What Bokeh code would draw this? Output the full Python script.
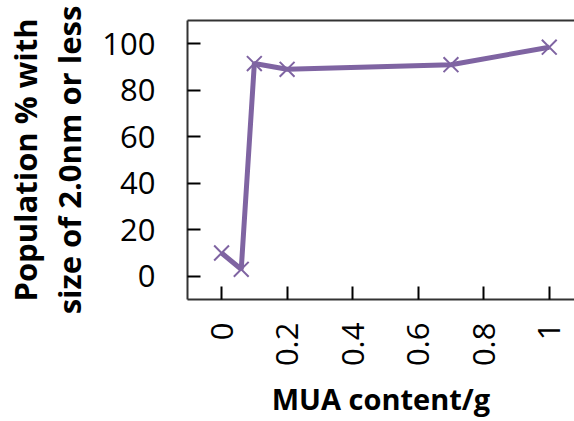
from bokeh.plotting import figure
from bokeh.models import Range1d, FixedTicker, LinearAxis
from bokeh.embed import file_html
from bokeh.resources import INLINE
import math

mua_content = [0, 0.06, 0.1, 0.2, 0.7, 1.0]
population_pct = [10, 3, 91.5, 89, 91, 98.5]
x_ticks = [0, 0.2, 0.4, 0.6, 0.8, 1.0]
x_tick_labels = {0: "0", 0.2: "0.2", 0.4: "0.4", 0.6: "0.6", 0.8: "0.8", 1.0: "1"}
y_ticks = [0, 20, 40, 60, 80, 100]

FONT = "Open Sans"
COLOR = "#7F64A2"
AXIS = "#333333"

p = figure(width=574, height=421, output_backend="svg", toolbar_location=None,
           x_range=Range1d(-0.104, 1.077), y_range=Range1d(-10, 110),
           min_border_left=187, min_border_right=0, min_border_top=20, min_border_bottom=122)
p.outline_line_color = None
p.grid.visible = False
p.background_fill_color = "white"
p.border_fill_color = "white"

p.line(mua_content, population_pct, line_color=COLOR, line_width=5)
p.scatter(mua_content, population_pct, marker="x", size=21, line_color=COLOR, line_width=2)

xa = p.xaxis[0]
xa.ticker = FixedTicker(ticks=x_ticks)
xa.major_label_overrides = x_tick_labels
xa.major_label_orientation = math.pi / 2
xa.axis_label = "MUA content/g"
ya = p.yaxis[0]
ya.ticker = FixedTicker(ticks=y_ticks)
ya.axis_label = "Population % with\nsize of 2.0nm or less"

for ax in (xa, ya):
    ax.axis_line_color = AXIS
    ax.axis_line_width = 2
    ax.major_tick_line_color = "black"
    ax.major_tick_line_width = 2
    ax.major_tick_in = 13
    ax.major_tick_out = 0
    ax.minor_tick_line_color = None
    ax.major_label_text_font = FONT
    ax.major_label_text_font_size = "31px"
    ax.major_label_text_color = "black"
    ax.axis_label_text_font = FONT
    ax.axis_label_text_font_style = "bold"
    ax.axis_label_text_color = "black"

xa.axis_label_text_font_size = "29px"
ya.axis_label_text_font_size = "31px"
xa.major_label_standoff = 23
xa.axis_label_standoff = 10
ya.major_label_standoff = 32
ya.axis_label_standoff = 9
ya.axis_label_text_line_height = 1.05

top = LinearAxis(ticker=FixedTicker(ticks=[]), axis_line_color=AXIS, axis_line_width=2,
                 major_tick_line_color=None, minor_tick_line_color=None,
                 major_label_text_font_size="0px")
p.add_layout(top, "above")

open("out.html", "w").write(file_html(p, INLINE))
